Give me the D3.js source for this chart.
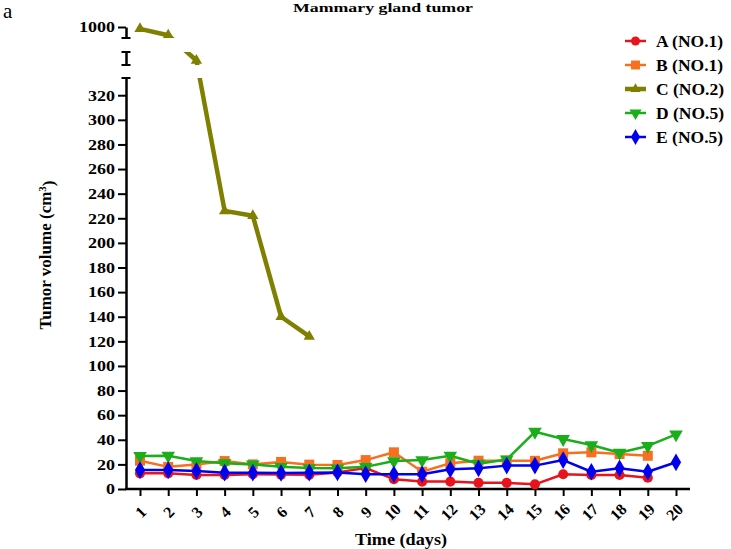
<!DOCTYPE html>
<html><head><meta charset="utf-8">
<script src="https://cdn.jsdelivr.net/npm/d3@7/dist/d3.min.js"></script>
<style>
body{margin:0;background:#fff}
svg{display:block}
text{font-family:"Times New Roman","Liberation Serif",serif}
</style>
</head><body>
<script>
// ---------- data ----------
const days = [1,2,3,4,5,6,7,8,9,10,11,12,13,14,15,16,17,18,19,20];
const seriesNames = ["A (NO.1)","B (NO.1)","C (NO.2)","D (NO.5)","E (NO.5)"];
const valuesA = [12.7,12.7,11.4,11.4,12,11.7,11.5,13.5,17,8,6,6,5,5,3.8,12,11.4,11.4,9.2];
const valuesB = [23,18,20,22.7,20,22,19.8,19.5,23.5,29.8,14,21,23,23,22.9,29,29.8,28.4,27];
const valuesC = [990,955,435,226,222,140,124];
const valuesD = [26.8,27,22.7,21,20,18,17,16.8,18,22.7,23.5,27,20.5,24,46.5,40.6,35.7,29.5,35,44.4];
const valuesE = [15.4,15.4,14.6,13.3,13.3,13,13.3,13.5,12,12,12,16,16.8,19,19,23.5,14,16.8,14,21.7];
const yTicksLower = [0,20,40,60,80,100,120,140,160,180,200,220,240,260,280,300,320];
const yTicksUpper = [1000];
const titleText = "Mammary gland tumor";
const xLabel = "Time (days)";
const yLabel = "Tumor volume (cm";
const panelLabel = "a";

// ---------- layout ----------
const W = 731, H = 549;
const axisX = 126, baseY = 489, xEnd = 690;
const FONT = '"Times New Roman","Liberation Serif",serif';
const svg = d3.select("body").append("svg").attr("width", W).attr("height", H);

const x = d3.scaleLinear().domain([1, 20]).range([140, 676]);
const yLow = d3.scaleLinear().domain([0, 334]).range([baseY, 78]);
const yMid = d3.scaleLinear().domain([400, 500]).range([65, 52]);
const yTop = d3.scaleLinear().domain([940, 1000]).range([38, 27]);
const y = v => v <= 334 ? yLow(v) : (v <= 500 ? yMid(v) : yTop(v));

const series = [
  {name: seriesNames[0], values: valuesA, color: "#e8141b", sym: d3.symbolCircle, size: 80, rot: 0, lw: 2.5},
  {name: seriesNames[1], values: valuesB, color: "#f7701f", sym: d3.symbolSquare, size: 100, rot: 0, lw: 2.5},
  {name: seriesNames[2], values: valuesC, color: "#7f7f00", sym: d3.symbolTriangle, size: 55, rot: 0, lw: 4.5},
  {name: seriesNames[3], values: valuesD, color: "#1aae1a", sym: d3.symbolTriangle, size: 80, rot: 180, lw: 2.5},
  {name: seriesNames[4], values: valuesE, color: "#0000ee", sym: d3.symbolDiamond, size: 90, rot: 0, lw: 2.5}
];

// clip for broken axis
const defs = svg.append("defs");
const cp = defs.append("clipPath").attr("id", "brk");
cp.append("rect").attr("x", 0).attr("y", 0).attr("width", W).attr("height", 38);
cp.append("rect").attr("x", 0).attr("y", 52).attr("width", W).attr("height", 13);
cp.append("rect").attr("x", 0).attr("y", 78).attr("width", W).attr("height", H - 78);

// ---------- axes ----------
const gyLow = svg.append("g").attr("transform", `translate(${axisX},0)`)
  .call(d3.axisLeft(yLow).tickValues(yTicksLower).tickFormat(d3.format("d")).tickSize(8).tickSizeOuter(0).tickPadding(3));
const gyTop = svg.append("g").attr("transform", `translate(${axisX},0)`)
  .call(d3.axisLeft(yTop).tickValues(yTicksUpper).tickFormat(d3.format("d")).tickSize(8).tickSizeOuter(0).tickPadding(3));
const gyMid = svg.append("g").attr("transform", `translate(${axisX},0)`)
  .call(d3.axisLeft(yMid).tickValues([]).tickSizeOuter(0));

[gyLow, gyTop, gyMid].forEach(g => {
  g.attr("font-family", FONT);
  g.select(".domain").attr("stroke", "#000").attr("stroke-width", 2.5);
  g.selectAll(".tick line").attr("stroke", "#000").attr("stroke-width", 2);
  g.selectAll(".tick text").attr("fill", "#000").attr("font-size", 15).attr("font-weight", "bold")
    .attr("textLength", d => String(d).length * 9).attr("lengthAdjust", "spacingAndGlyphs");
});
// caps at segment ends
const caps = [yTop.range()[0], yMid.range()[0], yMid.range()[1], yLow.range()[1]];
svg.append("g").selectAll("line").data(caps).join("line")
  .attr("x1", axisX - 4.5).attr("x2", axisX + 4.5)
  .attr("y1", d => d).attr("y2", d => d)
  .attr("stroke", "#000").attr("stroke-width", 2);

// x axis
const gx = svg.append("g").attr("transform", `translate(0,${baseY})`).attr("font-family", FONT)
  .call(d3.axisBottom(x).tickValues(days).tickFormat(d3.format("d")).tickSize(7).tickSizeOuter(0));
gx.select(".domain").remove();
gx.append("line").attr("x1", axisX - 1).attr("x2", xEnd).attr("y1", 0).attr("y2", 0)
  .attr("stroke", "#000").attr("stroke-width", 2.5);
gx.selectAll(".tick line").attr("stroke", "#000").attr("stroke-width", 2);
gx.selectAll(".tick text")
  .attr("fill", "#000").attr("font-size", 16).attr("font-weight", "bold")
  .attr("x", 0).attr("y", 0).attr("dy", "0.35em").attr("text-anchor", "middle")
  .attr("transform", d => `translate(${d >= 10 ? -2 : 0},23) rotate(-45)`);

// ---------- series ----------
const line = d3.line().x((d, i) => x(days[i])).y(d => y(d));
series.forEach(s => {
  const g = svg.append("g");
  if (s.values === valuesC) g.attr("clip-path", "url(#brk)");
  g.append("path").attr("d", line(s.values)).attr("fill", "none")
    .attr("stroke", s.color).attr("stroke-width", s.lw).attr("stroke-linejoin", "round");
  g.selectAll("path.m").data(s.values).join("path").attr("class", "m")
    .attr("d", d3.symbol().type(s.sym).size(s.size))
    .attr("transform", (d, i) => `translate(${x(days[i])},${y(d)}) rotate(${s.rot})`)
    .attr("fill", s.color);
});

// ---------- legend ----------
const leg = svg.append("g");
series.forEach((s, i) => {
  const by = 47 + i * 24;
  const cy = by - 6;
  leg.append("line").attr("x1", 625).attr("x2", 646).attr("y1", cy).attr("y2", cy)
    .attr("stroke", s.color).attr("stroke-width", s.lw);
  leg.append("path").attr("d", d3.symbol().type(s.sym).size(s.size * 0.8))
    .attr("transform", `translate(635.5,${cy}) rotate(${s.rot})`).attr("fill", s.color);
  leg.append("text").attr("x", 656).attr("y", by).attr("font-size", 17.5).attr("font-weight", "bold")
    .attr("fill", "#000").text(s.name);
});

// ---------- labels ----------
svg.append("text").attr("x", 383).attr("y", 12).attr("text-anchor", "middle")
  .attr("font-size", 13).attr("font-weight", "bold").attr("textLength", 180)
  .attr("lengthAdjust", "spacingAndGlyphs").text(titleText);
svg.append("text").attr("x", 3).attr("y", 18).attr("font-size", 21).text(panelLabel);
svg.append("text").attr("x", 401).attr("y", 545).attr("text-anchor", "middle")
  .attr("font-size", 16.5).attr("font-weight", "bold").attr("textLength", 92)
  .attr("lengthAdjust", "spacingAndGlyphs").text(xLabel);
const yl = svg.append("text").attr("transform", "translate(51,255) rotate(-90)")
  .attr("text-anchor", "middle").attr("font-size", 17).attr("font-weight", "bold");
yl.append("tspan").text(yLabel);
yl.append("tspan").attr("dy", "-0.5em").attr("font-size", 11).text("3");
yl.append("tspan").attr("dy", "0.5em").text(")");
</script>
</body></html>
